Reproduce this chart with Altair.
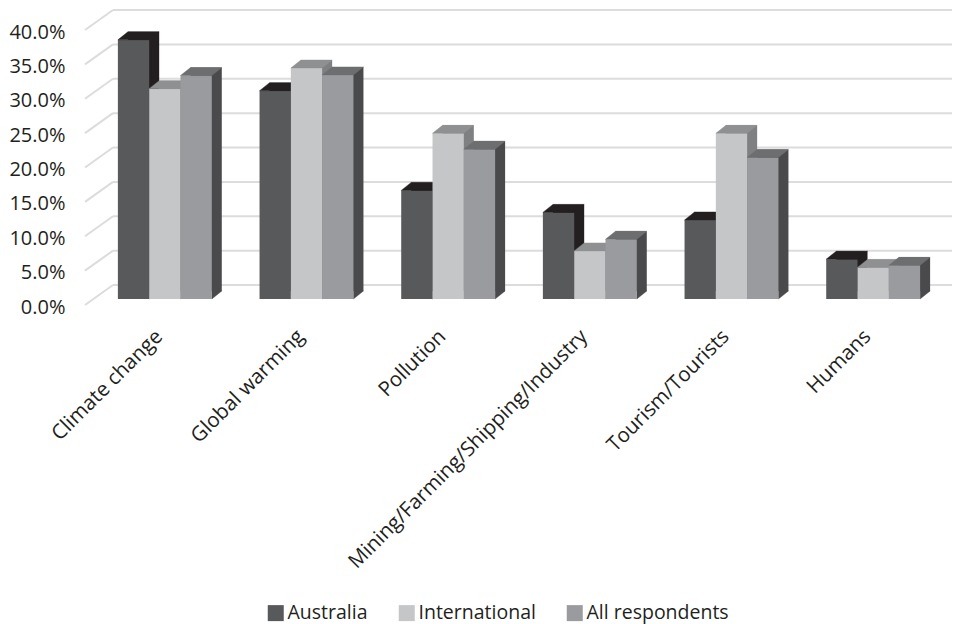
import json
import altair as alt
import pandas as pd

# ---- data ----
categories = ["Climate change", "Global warming", "Pollution",
              "Mining/Farming/Shipping/Industry", "Tourism/Tourists", "Humans"]
series = ["Australia", "International", "All respondents"]
australia = [37.7, 30.3, 15.8, 12.6, 11.5, 5.8]
international = [30.6, 33.6, 24.1, 7.0, 24.1, 4.6]
all_respondents = [32.5, 32.6, 21.8, 8.7, 20.6, 4.9]
y_ticks = [0, 5, 10, 15, 20, 25, 30, 35, 40]

# ---- styles ----
front_colors = ["#58595b", "#c5c6c8", "#9a9b9e"]
top_colors = ["#231f20", "#8f9092", "#6d6e70"]
side_colors = ["#231f20", "#7f8082", "#4a4a4c"]
FONT = "Open Sans"
TEXT = "#231f20"
GRID = "#dcdcdc"

W, H = 850, 275
STEP = W / len(categories)
BAR_W = 31.3          # px
DX, DY = 10, 8        # 3-D depth in px
half_u = BAR_W / 2 / STEP
hp = BAR_W / 2

rows = []
for i, c in enumerate(categories):
    for j, (s, vals) in enumerate(zip(series, [australia, international, all_respondents])):
        xc = i + (j - 1) * BAR_W / STEP
        rows.append(dict(category=c, series=s, value=vals[i] / 100.0,
                         xc=xc, xl=xc - half_u, xr=xc + half_u, zero=0.0))
df = pd.DataFrame(rows)
grid = pd.DataFrame({"v": [t / 100.0 for t in y_ticks]})

xs = alt.Scale(domain=[-0.5, len(categories) - 0.5], nice=False, zero=False)
ys = alt.Scale(domain=[0, 0.4], nice=False, zero=True)

x_axis = alt.Axis(values=list(range(len(categories))),
                  labelExpr=json.dumps(categories) + "[round(datum.value)]",
                  labelAngle=-45, labelAlign="right", labelBaseline="middle",
                  labelFont=FONT, labelFontSize=20.5, labelColor=TEXT,
                  labelPadding=34, labelOffset=-6, labelLimit=0,
                  labelOverlap=False, labelFlush=False,
                  domain=False, ticks=False, tickSize=0, grid=False, title=None)
y_axis = alt.Axis(values=[t / 100.0 for t in y_ticks], format=".1%",
                  labelFont=FONT, labelFontSize=20, labelColor=TEXT,
                  labelPadding=29, labelOffset=8, labelOverlap=False, labelFlush=False,
                  domain=False, ticks=False, tickSize=0, grid=False, title=None)

legend = alt.Legend(orient="none", legendX=172, legendY=579, direction="horizontal",
                    title=None, symbolType="square", symbolSize=256, symbolStrokeWidth=0,
                    labelFont=FONT, labelFontSize=19.5, labelColor=TEXT,
                    columnPadding=29, labelOffset=2, padding=0)

X = lambda f: alt.X(f, type="quantitative", scale=xs, axis=x_axis)
Y = lambda f: alt.Y(f, type="quantitative", scale=ys, axis=y_axis)

# back-wall gridlines and floor/side slanted edges
grid_back = alt.Chart(grid).mark_rule(color=GRID, strokeWidth=2, yOffset=-14).encode(
    y=Y("v"), x=alt.value(19), x2=alt.value(858))
grid_floor = alt.Chart(grid).mark_rule(color=GRID, strokeWidth=2, yOffset=6, y2Offset=-14).encode(
    y=Y("v"), y2="v:Q", x=alt.value(-9), x2=alt.value(19))

layers = [grid_back, grid_floor]
top_path = f"M{-hp},0 L{hp},0 L{hp + DX},{-DY} L{-hp + DX},{-DY} Z"
tri_path = f"M0,0 L0,{-DY} L{DX},{-DY} Z"

for j, s in enumerate(series):
    base = alt.Chart(df).transform_filter(alt.datum.series == s)
    shadow = base.mark_rect(color=side_colors[j], xOffset=DX, x2Offset=DX,
                            yOffset=-DY, y2Offset=-DY).encode(
        x=X("xl"), x2="xr:Q", y=Y("value"), y2="zero:Q")
    tri = base.mark_point(shape=tri_path, size=4, filled=True, opacity=1,
                          color=side_colors[j], stroke=side_colors[j], strokeWidth=0.4).encode(
        x=X("xr"), y=Y("zero"))
    front = base.mark_rect().encode(
        x=X("xl"), x2="xr:Q", y=Y("value"), y2="zero:Q",
        color=alt.Color("series:N", scale=alt.Scale(domain=series, range=front_colors),
                        legend=legend))
    top = base.mark_point(shape=top_path, size=4, filled=True, opacity=1,
                          color=top_colors[j], stroke=top_colors[j], strokeWidth=0.4).encode(
        x=X("xc"), y=Y("value"))
    layers += [shadow, tri, front, top]

chart = alt.layer(*layers).properties(
    width=W, height=H,
    autosize=alt.AutoSizeParams(type="none"),
    padding={"left": 94, "top": 24, "right": 10, "bottom": 325},
    background="white",
).configure_view(stroke=None)

chart.save("out.html", embed_options={"renderer": "svg", "actions": False})
